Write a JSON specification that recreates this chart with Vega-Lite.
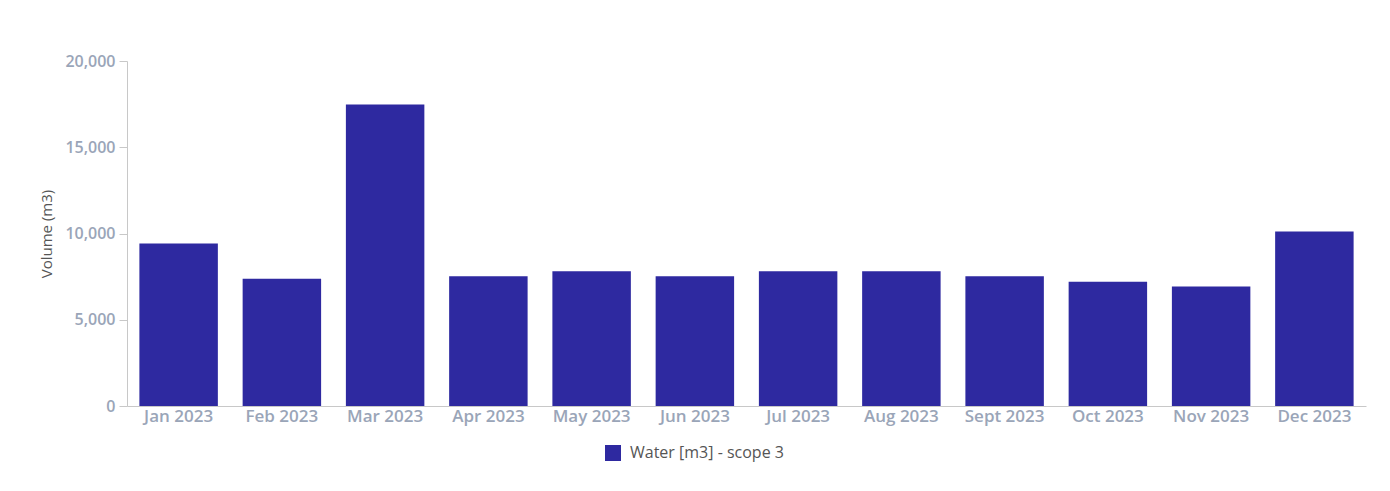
{
  "$schema": "https://vega.github.io/schema/vega-lite/v6.json",
  "autosize": "none",
  "width": 1239,
  "height": 345,
  "padding": {"left": 127, "top": 61, "right": 24, "bottom": 85},
  "background": "white",
  "config": {
    "view": {"stroke": null},
    "font": "Open Sans"
  },
  "data": {
    "values": [
      {"month": "Jan 2023", "volume": 9420, "series": "Water [m3] - scope 3"},
      {"month": "Feb 2023", "volume": 7374, "series": "Water [m3] - scope 3"},
      {"month": "Mar 2023", "volume": 17478, "series": "Water [m3] - scope 3"},
      {"month": "Apr 2023", "volume": 7525, "series": "Water [m3] - scope 3"},
      {"month": "May 2023", "volume": 7814, "series": "Water [m3] - scope 3"},
      {"month": "Jun 2023", "volume": 7525, "series": "Water [m3] - scope 3"},
      {"month": "Jul 2023", "volume": 7814, "series": "Water [m3] - scope 3"},
      {"month": "Aug 2023", "volume": 7814, "series": "Water [m3] - scope 3"},
      {"month": "Sept 2023", "volume": 7525, "series": "Water [m3] - scope 3"},
      {"month": "Oct 2023", "volume": 7200, "series": "Water [m3] - scope 3"},
      {"month": "Nov 2023", "volume": 6928, "series": "Water [m3] - scope 3"},
      {"month": "Dec 2023", "volume": 10116, "series": "Water [m3] - scope 3"}
    ]
  },
  "mark": {"type": "bar"},
  "encoding": {
    "x": {
      "field": "month",
      "type": "nominal",
      "sort": null,
      "scale": {"paddingInner": 0.24, "paddingOuter": 0.12},
      "axis": {
        "title": null,
        "labelAngle": 0,
        "labelFont": "Open Sans",
        "labelFontSize": 17,
        "labelFontWeight": 600,
        "labelColor": "#9aa5b8",
        "labelPadding": 2,
        "ticks": false,
        "domainColor": "#c8c8c8",
        "domainWidth": 1
      }
    },
    "y": {
      "field": "volume",
      "type": "quantitative",
      "scale": {"domain": [0, 20000], "nice": false},
      "axis": {
        "title": "Volume (m3)",
        "titleFont": "Open Sans",
        "titleFontSize": 15,
        "titleFontWeight": "normal",
        "titleColor": "#555555",
        "titlePadding": 10,
        "values": [0, 5000, 10000, 15000, 20000],
        "format": ",d",
        "labelFont": "Open Sans",
        "labelFontSize": 16,
        "labelFontWeight": 600,
        "labelColor": "#9aa5b8",
        "labelPadding": 4,
        "tickSize": 8,
        "tickColor": "#c8c8c8",
        "domainColor": "#c8c8c8",
        "grid": false
      }
    },
    "color": {
      "field": "series",
      "type": "nominal",
      "scale": {"range": ["#2e29a0"]},
      "legend": {
        "title": null,
        "orient": "none",
        "legendX": 478,
        "legendY": 384,
        "symbolType": "square",
        "symbolSize": 256,
        "symbolStrokeWidth": 0,
        "labelFont": "Open Sans",
        "labelFontSize": 16,
        "labelColor": "#555555",
        "labelOffset": 9
      }
    }
  }
}
